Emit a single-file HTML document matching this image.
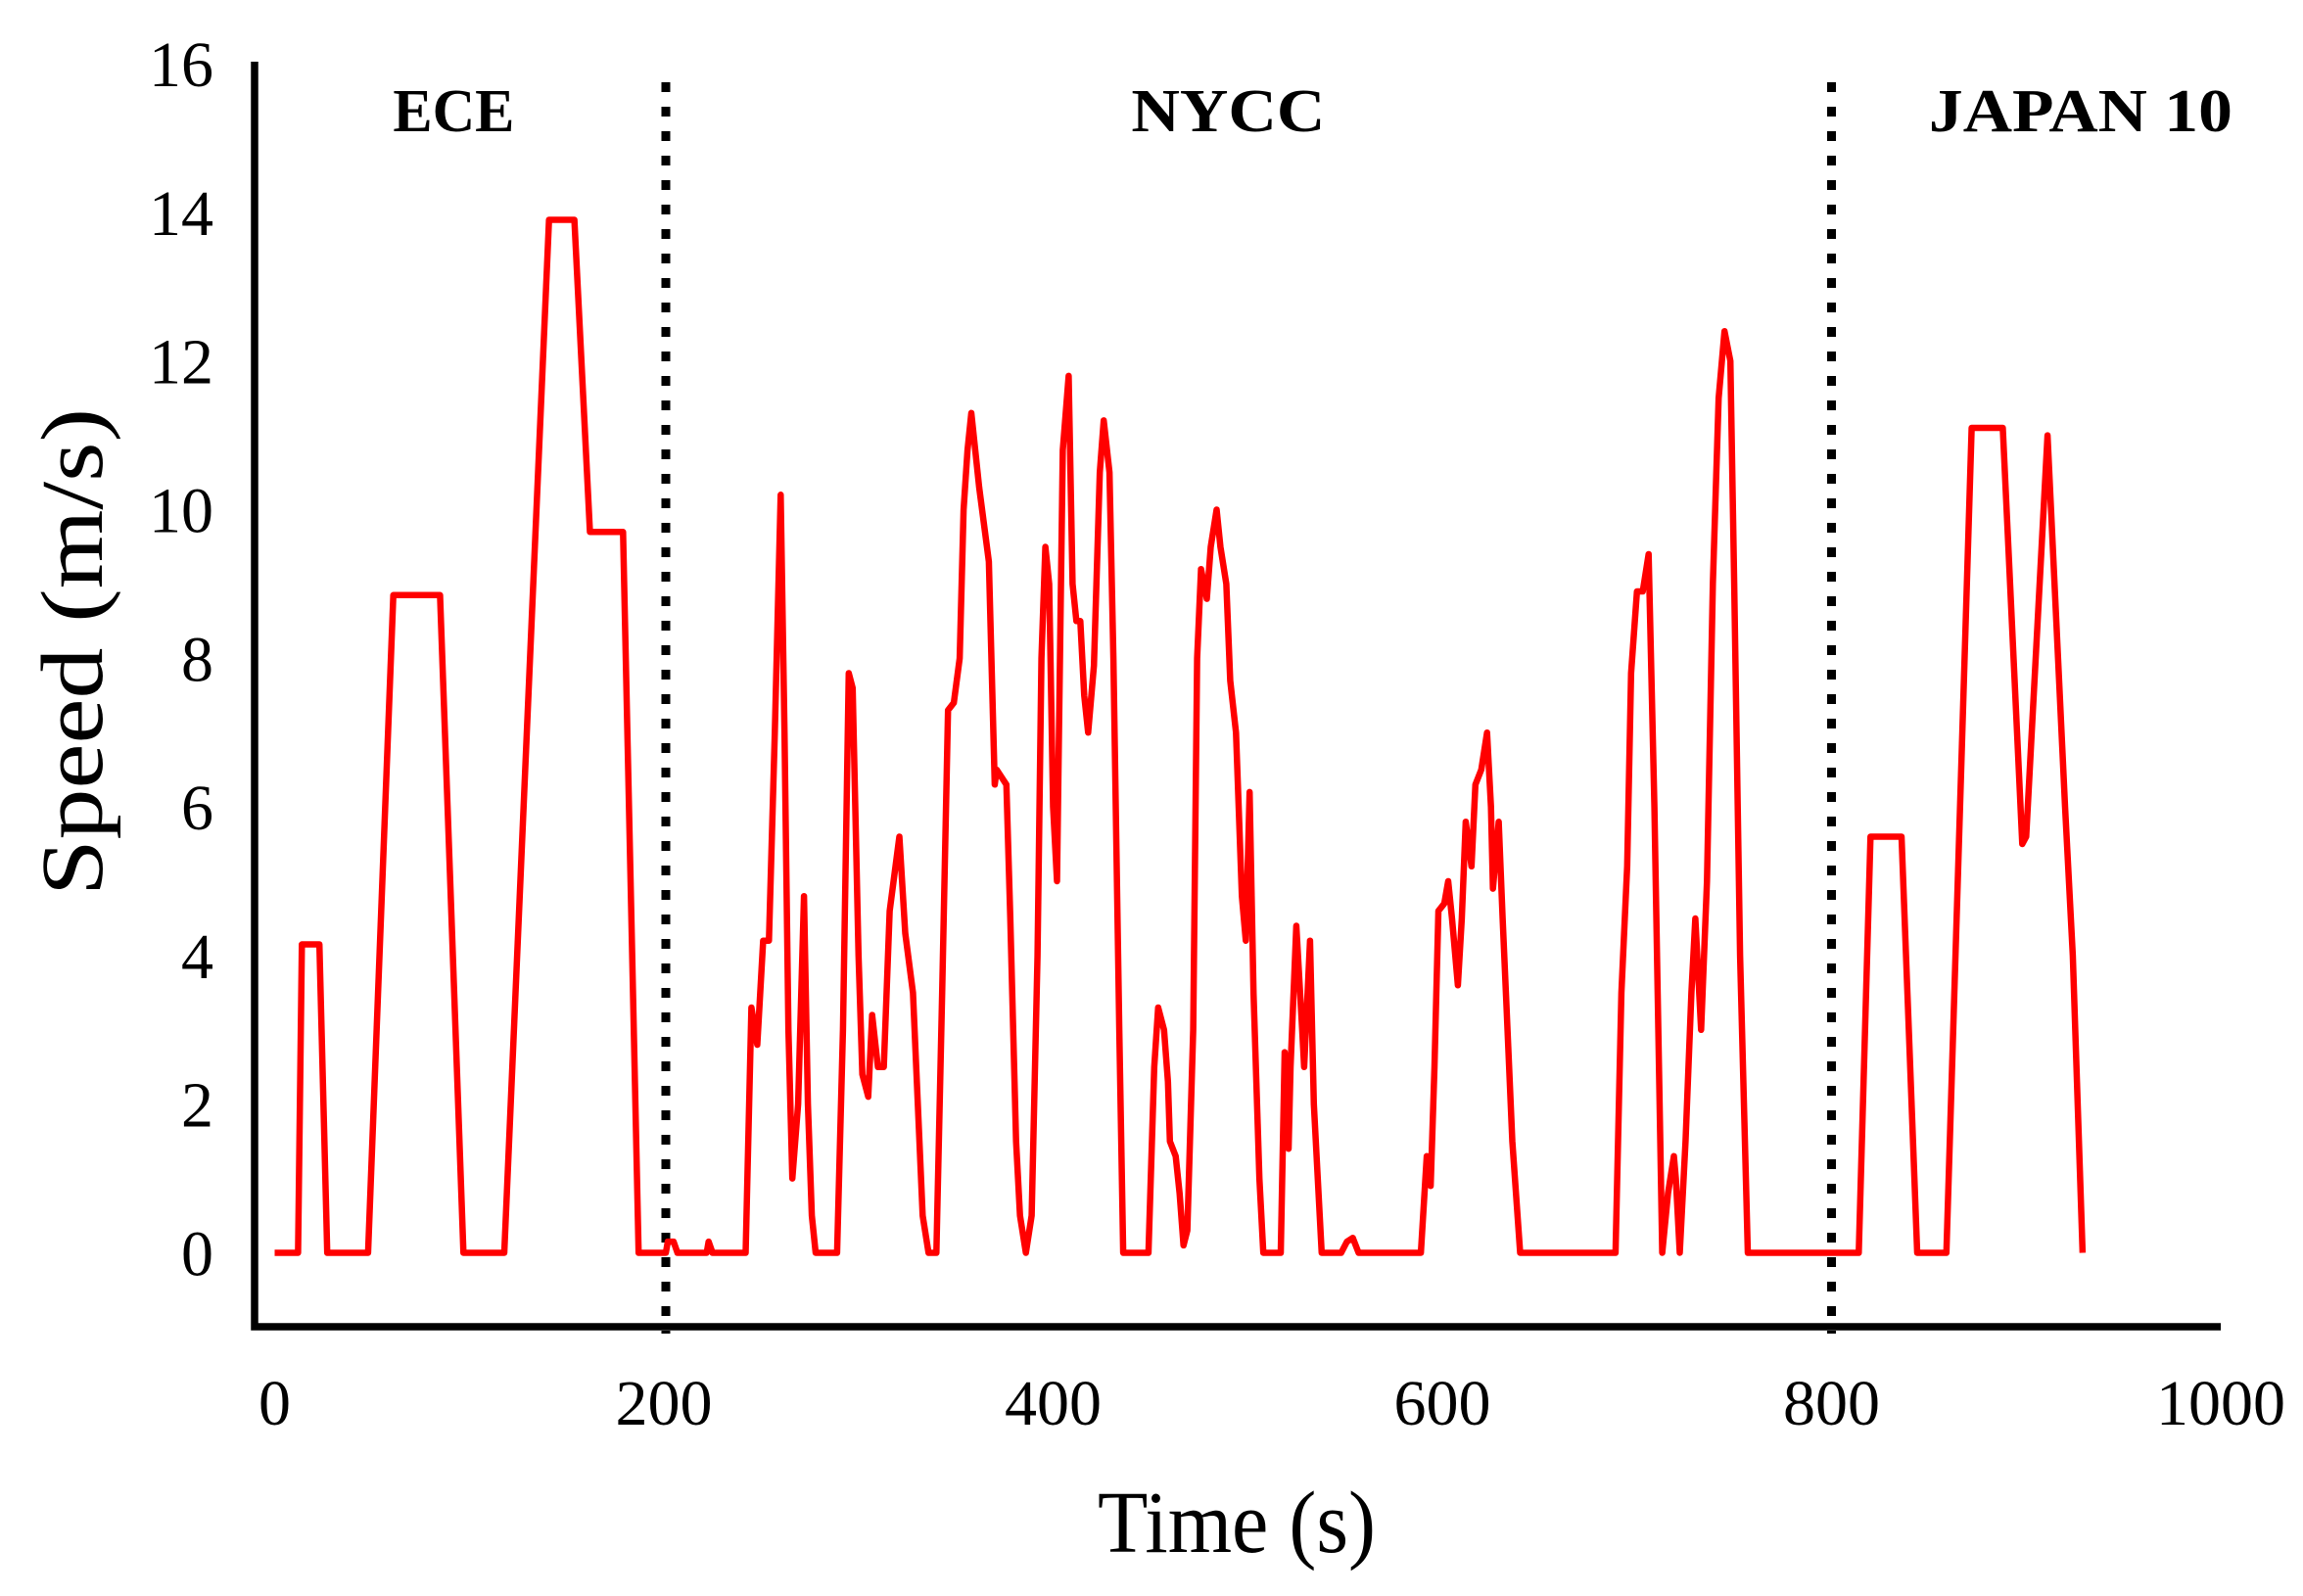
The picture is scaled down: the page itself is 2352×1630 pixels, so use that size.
<!DOCTYPE html>
<html><head><meta charset="utf-8"><style>html,body{margin:0;padding:0;background:#fff}svg{display:block}</style></head>
<body>
<svg id="chart" width="2352" height="1630" viewBox="0 0 2352 1630" xmlns="http://www.w3.org/2000/svg" font-family="'Liberation Serif', serif">
<g id="axes"></g>
<g id="plot"></g>
</svg>
<script>
const xTicks = [0,200,400,600,800,1000];
const yTicks = [0,2,4,6,8,10,12,14,16];
const times = [0,12,14,23,27,48,61,85,97,118,141,154,162,179,187,201,202,205,207,222,223,225,242,
245,248,251,254,257,260,262,264,266,269,272,274,276,278,289,292,295,297,300,302,305,307,310,313,316,321,324,328,333,336,340,343,346,349,352,354,356,358,362,367,370,371,376,378,381,383,386,389,392,394,396,398,400,402,403,405,408,410,412,414,416,418,421,424,426,429,431,434,436,449,452,454,457,459,460,463,465,467,469,472,474,476,479,481,484,486,489,491,494,497,499,501,503,506,508,517,519,521,522,525,528,529,532,534,537,538,548,551,554,557,589,592,594,596,598,601,603,605,608,610,612,615,617,620,623,625,626,629,631,633,636,640,689,692,695,697,700,703,706,709,711,713,716,719,720,722,725,728,730,733,736,739,742,745,748,750,753,757,814,820,836,844,859,872,888,898,900,911,920,924,929];
const speeds = [0,0,4.15,4.15,0,0,8.85,8.85,0,0,13.9,13.9,9.7,9.7,0,0,0.15,0.15,0,0,0.15,0,0,
3.3,2.8,4.2,4.2,7,10.2,7,3,1,2,4.8,2,0.5,0,0,3,7.8,7.6,4,2.4,2.1,3.2,2.5,2.5,4.6,5.6,4.3,3.5,0.5,0,0,3.5,7.3,7.4,8,10,10.8,11.3,10.3,9.3,6.3,6.5,6.3,4.5,1.5,0.5,0,0.5,4,8,9.5,9,6,5,7,10.8,11.8,9,8.5,8.5,7.5,7,7.9,10.5,11.2,10.5,8,3,0,0,2.5,3.3,3,2.3,1.5,1.3,0.8,0.1,0.3,3,8,9.2,8.8,9.5,10,9.5,9,7.7,7,4.8,4.2,6.2,3.5,1,0,0,2.7,1.4,2.5,4.4,3,2.5,4.2,2,0.5,0,0,0.15,0.2,0,0,1.3,0.9,2.5,4.6,4.7,5,4.5,3.6,4.5,5.8,5.2,6.3,6.5,7,6,4.9,5.8,4.5,3.3,1.5,0,0,3.5,5.2,7.8,8.9,8.9,9.4,6,3,0,0.8,1.3,1,0,1.5,3.5,4.5,3,5,9,11.5,12.4,12,9,4,0,0,5.6,5.6,0,0,11.1,11.1,5.5,5.6,11,6,4,0];
const cycleBounds = [201,800];
const cycleNames = ['ECE','NYCC','JAPAN 10'];
const cycleLabelT = [92,490,928];
const cycleLabelW = [124,198,310];

const NS='http://www.w3.org/2000/svg';
const X = t => 280.5 + t*1.9875;
const Y = v => 1279.5 - v*50.6*1.5;
function mk(tag, attrs, parent){const e=document.createElementNS(NS,tag);for(const k in attrs)e.setAttribute(k,attrs[k]);parent.appendChild(e);return e;}
const axes=document.getElementById('axes'), plot=document.getElementById('plot');

let a=mk('path',{d:'M260 63 V1355 H2268',fill:'none',stroke:'#000','stroke-width':7.5},axes);



xTicks.forEach(t=>{
  const e=mk('text',{x:X(t),y:1455,'font-size':66,'text-anchor':'middle',fill:'#000'},axes);
  e.textContent=t;
  
  
});
yTicks.forEach(v=>{
  const e=mk('text',{x:218,y:Y(v)+23,'font-size':66,'text-anchor':'end',fill:'#000'},axes);
  e.textContent=v;
  
  
});
let xt=mk('text',{x:1263,y:1585,'font-size':90,'text-anchor':'middle',textLength:284,lengthAdjust:'spacingAndGlyphs'},axes);
xt.textContent='Time (s)';


let yt=mk('text',{x:0,y:0,'font-size':90,'text-anchor':'middle',textLength:498,lengthAdjust:'spacingAndGlyphs',transform:'translate(104,666) rotate(-90)'},axes);
yt.textContent='Speed (m/s)';



cycleBounds.forEach(t=>{
  const l=mk('line',{x1:X(t),x2:X(t),y1:84,y2:1362,stroke:'#000','stroke-width':9,'stroke-dasharray':'10 15'},plot);
  
  
});
cycleNames.forEach((n,i)=>{
  const e=mk('text',{x:X(cycleLabelT[i]),y:134,'font-size':62,'font-weight':'bold','text-anchor':'middle',textLength:cycleLabelW[i],lengthAdjust:'spacingAndGlyphs'},plot);
  e.textContent=n;
  
  
});
const d=times.map((t,i)=>(i?'L':'M')+X(t).toFixed(1)+' '+Y(speeds[i]).toFixed(1)).join(' ');
const ln=mk('path',{d:d,fill:'none',stroke:'#ff0000','stroke-width':6.5,'stroke-linejoin':'round'},plot);


</script>
</body></html>
